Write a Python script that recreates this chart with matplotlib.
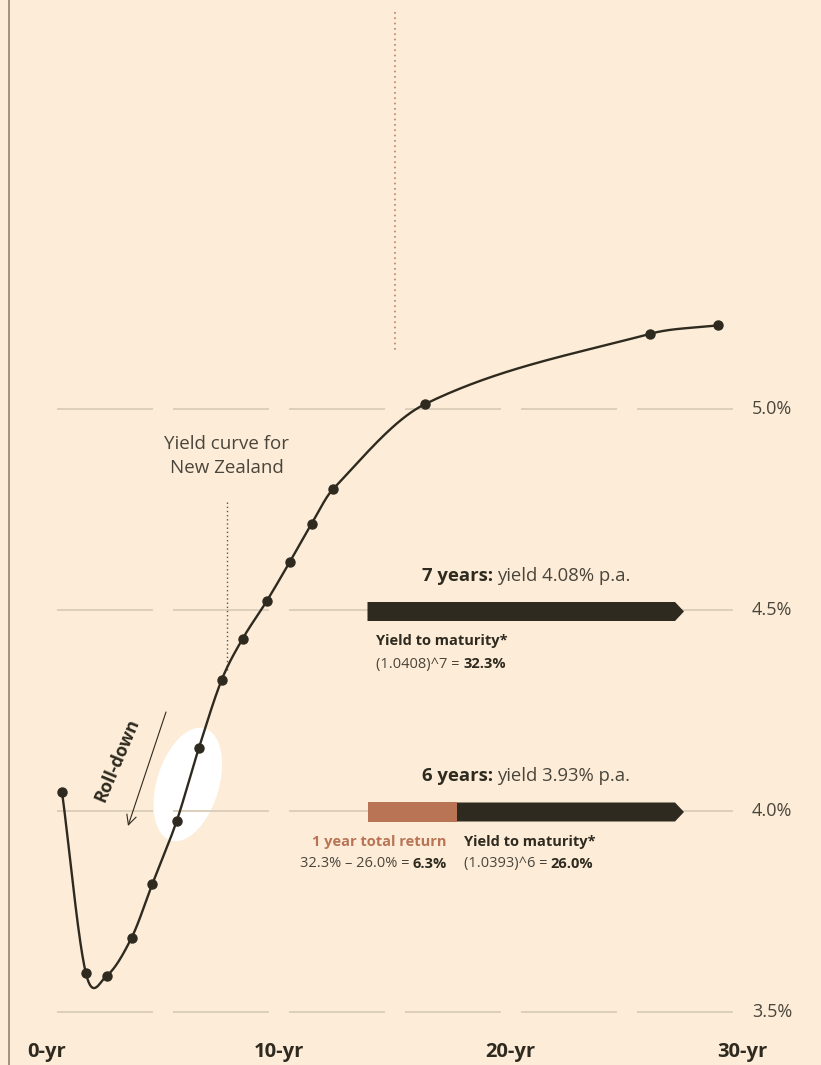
import matplotlib
matplotlib.use("Agg")
import matplotlib.pyplot as plt
from matplotlib.patches import Polygon
import numpy as np

plt.rcParams["font.family"] = ["Open Sans", "DejaVu Sans"]

# New Zealand government bond yields by maturity
maturity_years = [0.67, 1.70, 2.59, 3.67, 4.56, 5.61, 6.57, 7.55, 8.46,
                  9.49, 10.48, 11.43, 12.34, 16.31, 26.01, 28.93]
yield_pct = [4.047, 3.596, 3.590, 3.685, 3.818, 3.975, 4.157, 4.326, 4.429,
             4.522, 4.619, 4.715, 4.800, 5.012, 5.187, 5.208]

y_ticks = [5.0, 4.5, 4.0, 3.5]
y_tick_labels = ["5.0%", "4.5%", "4.0%", "3.5%"]
x_ticks = [0, 10, 20, 30]
x_tick_labels = ["0-yr", "10-yr", "20-yr", "30-yr"]

BG = "#FDEDD8"
INK = "#2E2A1F"
TEXT = "#4A453B"
GRID = "#DCCFBC"
BROWN = "#B87455"
DOT_RED = "#C27E60"

# canvas layout in pixels
W, H = 821, 1065
X0, PX_YR = 46.5, 23.2
Y5, PX_PCT = 409.0, 402.0


def px(x, y):
    return (x - X0) / PX_YR, 5.0 - (y - Y5) / PX_PCT


def smooth_curve(xs, ys, n=40):
    # cubic Hermite in x, slopes from central differences
    x = np.asarray(xs, float)
    y = np.asarray(ys, float)
    d = np.empty_like(y)
    d[1:-1] = (y[2:] - y[:-2]) / (x[2:] - x[:-2])
    d[0] = (y[1] - y[0]) / (x[1] - x[0])
    d[-1] = (y[-1] - y[-2]) / (x[-1] - x[-2])
    out_x, out_y = [], []
    t = np.linspace(0, 1, n)
    h00 = 2 * t**3 - 3 * t**2 + 1
    h10 = t**3 - 2 * t**2 + t
    h01 = -2 * t**3 + 3 * t**2
    h11 = t**3 - t**2
    for i in range(len(x) - 1):
        h = x[i + 1] - x[i]
        out_x.append(x[i] + t * h)
        out_y.append(h00 * y[i] + h10 * h * d[i] + h01 * y[i + 1] + h11 * h * d[i + 1])
    return np.concatenate(out_x), np.concatenate(out_y)


fig = plt.figure(figsize=(W / 100, H / 100), dpi=100, facecolor=BG)
ax = fig.add_axes([0, 0, 1, 1])
ax.set_facecolor(BG)
ax.axis("off")
x_lo, y_hi = px(0, 0)
x_hi, y_lo = px(W, H)
ax.set_xlim(x_lo, x_hi)
ax.set_ylim(y_lo, y_hi)
renderer = fig.canvas.get_renderer()


def text_runs(x, y, runs, ha="left", size=10, gap=0.0):
    """Place text pieces of different weight/colour side by side."""
    objs = [ax.text(0, 0, s, fontsize=size, fontweight=w, color=c, va="center")
            for s, w, c in runs]
    widths = [o.get_window_extent(renderer).width for o in objs]
    total = sum(widths) + gap * (len(objs) - 1)
    dx, dy = ax.transData.transform((x, y))
    if ha == "center":
        dx -= total / 2
    elif ha == "right":
        dx -= total
    for o, w in zip(objs, widths):
        o.set_position(ax.transData.inverted().transform((dx, dy)))
        dx += w + gap


# left frame rule
ax.axvline(px(9, 0)[0], color="#8E8473", lw=1.2)

# highlight around the roll-down section
cx = (maturity_years[5] + maturity_years[6]) / 2
cy = (yield_pct[5] + yield_pct[6]) / 2
ang = np.deg2rad(73)
tt = np.linspace(0, 2 * np.pi, 200)
ex = 58.5 * np.cos(tt) * np.cos(ang) - 31 * np.sin(tt) * np.sin(ang)
ey = 58.5 * np.cos(tt) * np.sin(ang) + 31 * np.sin(tt) * np.cos(ang)
ax.fill(cx + ex / PX_YR, cy + ey / PX_PCT, color="white", lw=0, zorder=1)

# broken gridlines, one piece per five years
for lvl in y_ticks:
    for k in range(6):
        ax.plot([5 * k + 0.45, 5 * k + 4.59], [lvl, lvl], color=GRID,
                lw=1.4, solid_capstyle="butt", zorder=2)

for lvl, lab in zip(y_ticks, y_tick_labels):
    ax.text(px(752, 0)[0], lvl, lab, fontsize=13, color=TEXT,
            ha="left", va="center")

for xt, lab in zip(x_ticks, x_tick_labels):
    ax.text(xt, px(0, 1052)[1], lab, fontsize=14.5, fontweight="bold",
            color=INK, ha="center", va="center")

# dotted pointers
ax.plot([15, 15], [px(0, 12)[1], px(0, 352)[1]], color=DOT_RED, lw=1.2,
        ls=(0, (1, 2.2)), zorder=2)
ax.plot([px(226.7, 0)[0]] * 2, [px(0, 502)[1], 4.35], color="#5A5448",
        lw=1.0, ls=(0, (1, 2.0)), zorder=2)

ax.text(px(227, 0)[0], px(0, 456)[1], "Yield curve for\nNew Zealand",
        fontsize=13.5, color=TEXT, ha="center", va="center", linespacing=1.45)

# yield curve
cx_s, cy_s = smooth_curve(maturity_years, yield_pct)
ax.plot(cx_s, cy_s, color=INK, lw=1.7, zorder=4, solid_capstyle="round")
ax.plot(maturity_years, yield_pct, "o", color=INK, ms=6.5, zorder=5)

# roll-down arrow
ax.annotate("", xy=px(128, 826), xytext=px(166, 712),
            arrowprops=dict(arrowstyle="->,head_length=0.7,head_width=0.35",
                            color=INK, lw=0.8, shrinkA=0, shrinkB=0))
ax.text(*px(117, 760), "Roll-down", fontsize=13, fontweight="bold",
        color=INK, rotation=67, ha="center", va="center",
        rotation_mode="anchor")

# return bars
bar_h = 19 / PX_PCT
bar_x0 = px(367.5, 0)[0]
bar_x1 = px(675, 0)[0]
bar_tip = px(684, 0)[0]
split_x = px(456.5, 0)[0]


def arrow_bar(x0, yc, color):
    verts = [(x0, yc - bar_h / 2), (bar_x1, yc - bar_h / 2), (bar_tip, yc),
             (bar_x1, yc + bar_h / 2), (x0, yc + bar_h / 2)]
    ax.add_patch(Polygon(verts, closed=True, color=color, lw=0, zorder=3))


y7 = px(0, 611.5)[1]
y6 = px(0, 812)[1]
arrow_bar(bar_x0, y7, INK)
arrow_bar(split_x, y6, INK)
ax.add_patch(plt.Rectangle((bar_x0, y6 - bar_h / 2), split_x - bar_x0, bar_h,
                           color=BROWN, lw=0, zorder=3))

text_runs(px(526, 0)[0], px(0, 576)[1],
          [("7 years:", "bold", INK), ("yield 4.08% p.a.", "normal", TEXT)],
          ha="center", size=13.3, gap=4)
text_runs(px(526, 0)[0], px(0, 776)[1],
          [("6 years:", "bold", INK), ("yield 3.93% p.a.", "normal", TEXT)],
          ha="center", size=13.3, gap=4)

text_runs(px(376, 0)[0], px(0, 641)[1],
          [("Yield to maturity*", "bold", INK)], size=10.5)
text_runs(px(376, 0)[0], px(0, 664)[1],
          [("(1.0408)^7 = ", "normal", TEXT), ("32.3%", "bold", INK)],
          size=10.5)

text_runs(px(447, 0)[0], px(0, 842)[1],
          [("1 year total return", "bold", BROWN)], ha="right", size=10.5)
text_runs(px(447, 0)[0], px(0, 864)[1],
          [("32.3% – 26.0% = ", "normal", TEXT), ("6.3%", "bold", INK)],
          ha="right", size=10.5)
text_runs(px(463.5, 0)[0], px(0, 842)[1],
          [("Yield to maturity*", "bold", INK)], size=10.5)
text_runs(px(463.5, 0)[0], px(0, 864)[1],
          [("(1.0393)^6 = ", "normal", TEXT), ("26.0%", "bold", INK)],
          size=10.5)

fig.savefig("out.png", dpi=100, facecolor=BG)
